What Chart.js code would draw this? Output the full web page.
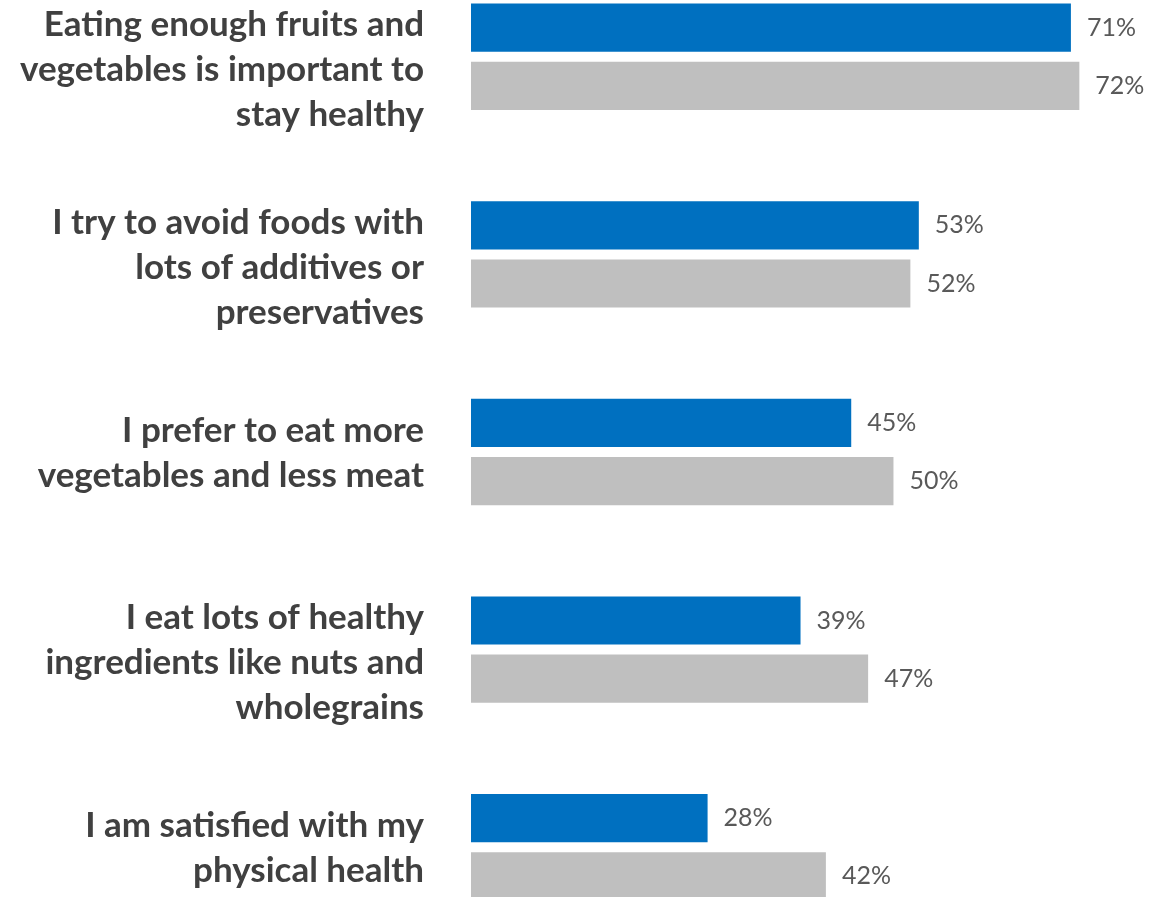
<!DOCTYPE html>
<html>
<head>
<meta charset="utf-8">
<title>Healthy eating attitudes</title>
<script src="https://cdn.jsdelivr.net/npm/chart.js@4.4.1/dist/chart.umd.min.js"></script>
<style>
  html, body { margin:0; padding:0; background:#fff; overflow:hidden; }
  #wrap { position:absolute; left:0; top:-42px; width:1174px; height:988px; }
</style>
</head>
<body>
<div id="wrap"><canvas id="chart"></canvas></div>
<script>
  // statements, one per row (multi-line labels)
  const categories = [
    ['Eating enough fruits and', 'vegetables is important to', 'stay healthy'],
    ['I try to avoid foods with', 'lots of additives or', 'preservatives'],
    ['I prefer to eat more', 'vegetables and less meat'],
    ['I eat lots of healthy', 'ingredients like nuts and', 'wholegrains'],
    ['I am satisfied with my', 'physical health']
  ];
  const seriesBlue = [71, 53, 45, 39, 28];
  const seriesGray = [72, 52, 50, 47, 42];

  const LABEL_FONT = 'bold 35px Lato';
  const VALUE_FONT = '25px Lato';

  // category labels drawn right-aligned left of the bars
  const rowLabels = {
    id: 'rowLabels',
    afterDraw(chart){
      const ctx = chart.ctx;
      const y = chart.scales.y;
      const right = y.right - 47;
      const lh = 45;
      ctx.save();
      ctx.font = LABEL_FONT;
      ctx.fillStyle = '#404040';
      ctx.textAlign = 'right';
      ctx.textBaseline = 'middle';
      categories.forEach((lines, i) => {
        const c = y.getPixelForValue(i) + 1 + (lines.length - 2) * 12;
        const top = c - (lines.length - 1) * lh / 2;
        lines.forEach((t, j) => ctx.fillText(t, right, top + j * lh));
      });
      ctx.restore();
    }
  };

  // percentage after the end of every bar
  const valueLabels = {
    id: 'valueLabels',
    afterDatasetsDraw(chart){
      const ctx = chart.ctx;
      ctx.save();
      ctx.font = VALUE_FONT;
      ctx.fillStyle = '#595959';
      ctx.textAlign = 'left';
      ctx.textBaseline = 'middle';
      chart.data.datasets.forEach((ds, di) => {
        chart.getDatasetMeta(di).data.forEach((bar, i) => {
          ctx.fillText(ds.data[i] + '%', bar.x + 16, bar.y);
        });
      });
      ctx.restore();
    }
  };

  new Chart(document.getElementById('chart'), {
    type: 'bar',
    data: {
      labels: categories,
      datasets: [
        { data: seriesBlue, backgroundColor: '#0070C0', categoryPercentage: 0.589, barPercentage: 0.828 },
        { data: seriesGray, backgroundColor: '#BFBFBF', categoryPercentage: 0.589, barPercentage: 0.828 }
      ]
    },
    options: {
      indexAxis: 'y',
      responsive: true,
      maintainAspectRatio: false,
      animation: false,
      layout: { padding: 0 },
      plugins: { legend: { display: false }, tooltip: { enabled: false } },
      scales: {
        x: { display: false, min: 0, max: 83.2 },
        y: {
          grid: { display: false, drawTicks: false },
          border: { display: false },
          ticks: { display: false },
          afterFit: (scale) => { scale.width = 471; }
        }
      }
    },
    plugins: [rowLabels, valueLabels]
  });
</script>
</body>
</html>
